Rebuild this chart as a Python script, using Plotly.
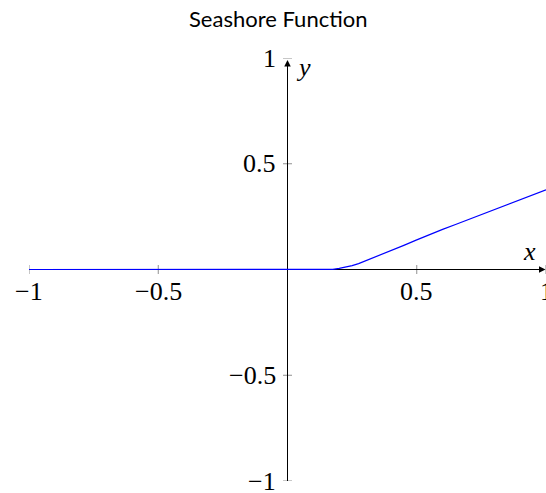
import plotly.graph_objects as go

# Data
x_vals = [-1.0, -0.5, 0.0, 0.1, 0.15, 0.175, 0.2, 0.225, 0.25, 0.275, 0.3, 0.35, 0.4, 0.45, 0.5,
          0.55, 0.6, 0.65, 0.7, 0.75, 0.8, 0.85, 0.9, 0.95, 1.0]
y_vals = [0.0, 0.0, 0.0, 0.0, 0.0, 0.001, 0.005, 0.010, 0.018, 0.028, 0.040, 0.063, 0.088, 0.114, 0.140,
          0.166, 0.190, 0.213, 0.236, 0.260, 0.283, 0.305, 0.328, 0.352, 0.377]

x_ticks = [-1, -0.5, 0.5, 1]
x_tick_labels = ["−1", "−0.5", "0.5", "1"]
y_ticks = [1, 0.5, -0.5, -1]
y_tick_labels = ["1", "0.5", "−0.5", "−1"]

title_text = "Seashore Function"

W, H = 546, 493
ml, mr, mt, mb = 29, 0, 58, 12
pw = W - ml - mr
ph = H - mt - mb

fig = go.Figure()

# axis lines (drawn first so that the curve lies on top of them)
fig.add_trace(go.Scatter(x=[-1, 0.99, None, 0, 0], y=[0, 0, None, -1, 0.975], mode="lines",
                         line=dict(color="black", width=1), hoverinfo="skip", showlegend=False,
                         cliponaxis=False))
fig.add_trace(go.Scatter(x=x_vals, y=y_vals, mode="lines",
                         line=dict(color="#0000ff", width=1.2, shape="linear"),
                         hoverinfo="skip", showlegend=False, cliponaxis=False))

serif = "Liberation Serif"
fs = 26
shapes = []
annotations = []

# arrow heads
annotations.append(dict(x=0.998, y=0, ax=0.97, ay=0, xref="x", yref="y", axref="x", ayref="y",
                        showarrow=True, arrowhead=2, arrowsize=1.3, arrowwidth=1, arrowcolor="black", text=""))
annotations.append(dict(x=0, y=0.99, ax=0, ay=0.95, xref="x", yref="y", axref="x", ayref="y",
                        showarrow=True, arrowhead=2, arrowsize=1.3, arrowwidth=1, arrowcolor="black", text=""))

tick_len_x = 4.5 / pw * 2  # in data units
tick_len_y = 4.5 / ph * 2
for v, lab in zip(x_ticks, x_tick_labels):
    shapes.append(dict(type="line", xref="x", yref="y", x0=v, x1=v, y0=-tick_len_y, y1=tick_len_y,
                       line=dict(color="#909090", width=1), layer="below"))
    annotations.append(dict(x=v, y=0, xref="x", yref="y", text=lab, showarrow=False,
                            yshift=-22, font=dict(family=serif, size=fs, color="black")))
for v, lab in zip(y_ticks, y_tick_labels):
    shapes.append(dict(type="line", xref="x", yref="y", x0=-tick_len_x, x1=tick_len_x, y0=v, y1=v,
                       line=dict(color="#909090", width=1), layer="below"))
    annotations.append(dict(x=0, y=v, xref="x", yref="y", text=lab, showarrow=False,
                            xanchor="right", xshift=-10, font=dict(family=serif, size=fs, color="black")))

# axis labels
annotations.append(dict(x=0.935, y=0, xref="x", yref="y", text="<i>x</i>", showarrow=False,
                        yshift=18, font=dict(family=serif, size=fs, color="black")))
annotations.append(dict(x=0, y=0.955, xref="x", yref="y", text="<i>y</i>", showarrow=False,
                        xshift=16, font=dict(family=serif, size=fs, color="black")))

# title (centre near x=278px, y=19px of the window)
annotations.append(dict(x=(278 - ml) / pw, y=1 + (mt - 19) / ph,
                        xref="paper", yref="paper", text=title_text, showarrow=False,
                        xanchor="center", yanchor="middle",
                        font=dict(family="Lato", size=22, color="black")))

fig.update_layout(
    width=W, height=H,
    margin=dict(l=ml, r=mr, t=mt, b=mb, pad=0),
    paper_bgcolor="white", plot_bgcolor="white",
    xaxis=dict(range=[-1, 1], visible=False, fixedrange=True),
    yaxis=dict(range=[-1, 1], visible=False, fixedrange=True),
    shapes=shapes, annotations=annotations,
    showlegend=False,
)

fig.write_html("out.html",
               config={"displayModeBar": False},
               post_script="document.body.style.margin='0';"
                           "document.documentElement.style.overflow='hidden';")
